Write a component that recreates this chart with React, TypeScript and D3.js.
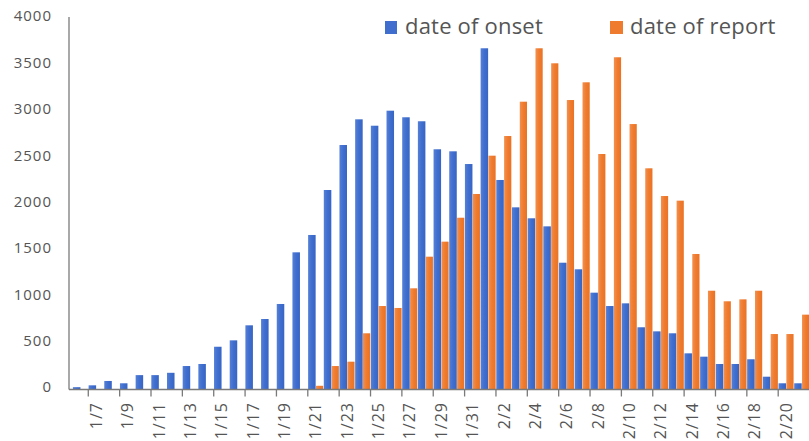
import React from "react";
import * as d3 from "d3";

const dates = [
  "1/6","1/7","1/8","1/9","1/10","1/11","1/12","1/13","1/14","1/15",
  "1/16","1/17","1/18","1/19","1/20","1/21","1/22","1/23","1/24","1/25",
  "1/26","1/27","1/28","1/29","1/30","1/31",
  "2/1","2/2","2/3","2/4","2/5","2/6","2/7","2/8","2/9","2/10",
  "2/11","2/12","2/13","2/14","2/15","2/16","2/17","2/18","2/19","2/20","2/21",
];

const onset = [
  25, 45, 92, 67, 155, 155, 180, 253, 275, 461,
  530, 692, 760, 922, 1479, 1666, 2151, 2636, 2913, 2844,
  3006, 2935, 2892, 2590, 2568, 2431,
  3679, 2259, 1964, 1846, 1759, 1367, 1296, 1044, 900, 929,
  671, 627, 606, 390, 354, 275, 275, 326, 138, 67, 67,
];

const report = [
  0, 0, 0, 0, 0, 0, 0, 0, 0, 0,
  0, 0, 0, 0, 0, 40, 253, 300, 606, 900,
  879, 1091, 1432, 1594, 1852, 2108,
  2521, 2733, 3103, 3679, 3517, 3121, 3312, 2539, 3582, 2862,
  2385, 2086, 2036, 1461, 1065, 951, 972, 1065, 598, 598, 807,
];

const yTicks = [0, 500, 1000, 1500, 2000, 2500, 3000, 3500, 4000];
const seriesNames = ["date of onset", "date of report"];

const W = 809;
const H = 441;
const BLUE = "#3F6ECF";
const ORANGE = "#EF7B2E";
const AXIS = "#7a7a7a";
const TEXT = "#555555";
const FONT = "'Open Sans', 'Noto Sans', sans-serif";

export default function App() {
  const step = 15.68;
  const x0 = 72.6;
  const x = d3
    .scaleBand<string>()
    .domain(dates)
    .range([x0, x0 + step * dates.length])
    .paddingInner(0)
    .paddingOuter(0);
  const bw = x.bandwidth();
  const y = d3.scaleLinear().domain([0, 4000]).range([389.5, 18.5]);
  const axisX = 69;
  const base = y(0);

  return (
    <svg
      width={W}
      height={H}
      style={{ position: "absolute", left: 0, top: 0, background: "#fff" }}
      fontFamily={FONT}
    >
      <defs>
        <linearGradient id="gb" x1="0" x2="1" y1="0" y2="0">
          <stop offset="0" stopColor="#5580d6" />
          <stop offset="0.5" stopColor={BLUE} />
          <stop offset="1" stopColor="#3865c4" />
        </linearGradient>
        <linearGradient id="go" x1="0" x2="1" y1="0" y2="0">
          <stop offset="0" stopColor="#f2904f" />
          <stop offset="0.5" stopColor={ORANGE} />
          <stop offset="1" stopColor="#ea7224" />
        </linearGradient>
      </defs>

      {/* bars */}
      {dates.map((d, i) => (
        <g key={d}>
          {onset[i] > 0 && (
            <rect
              x={(x(d) as number) + bw * 0.02}
              y={y(onset[i])}
              width={bw * 0.48}
              height={base - y(onset[i])}
              fill="url(#gb)"
            />
          )}
          {report[i] > 0 && (
            <rect
              x={(x(d) as number) + bw * 0.52}
              y={y(report[i])}
              width={bw * 0.46}
              height={base - y(report[i])}
              fill="url(#go)"
            />
          )}
        </g>
      ))}

      {/* y axis */}
      <line x1={axisX} x2={axisX} y1={17} y2={base} stroke={AXIS} strokeWidth={1.3} />
      {yTicks.map((t) => (
        <text
          key={t}
          x={52}
          y={y(t) - 2.5}
          dy="0.36em"
          textAnchor="end"
          fontSize={15}
          letterSpacing={1}
          fill={TEXT}
        >
          {t}
        </text>
      ))}

      {/* x axis */}
      <line x1={axisX} x2={W} y1={base} y2={base} stroke={AXIS} strokeWidth={1.3} />
      {dates.map((d, i) =>
        i % 2 === 1 ? (
          <g key={"t" + d}>
            <line
              x1={x(d) as number}
              x2={x(d) as number}
              y1={base}
              y2={base + 7}
              stroke={AXIS}
              strokeWidth={1.3}
            />
            <text
              transform={`translate(${(x(d) as number) + bw / 2},${402}) rotate(-90)`}
              textAnchor="end"
              dy="0.36em"
              fontSize={16}
              letterSpacing={1}
              fill={TEXT}
            >
              {d}
            </text>
          </g>
        ) : null
      )}

      {/* legend */}
      <rect x={385} y={21} width={12} height={13} fill={BLUE} />
      <text x={405} y={34} fontSize={22} letterSpacing={0.2} fill={TEXT}>
        {seriesNames[0]}
      </text>
      <rect x={610} y={21} width={13} height={13} fill={ORANGE} />
      <text x={630} y={34} fontSize={22} letterSpacing={0.2} fill={TEXT}>
        {seriesNames[1]}
      </text>
    </svg>
  );
}
